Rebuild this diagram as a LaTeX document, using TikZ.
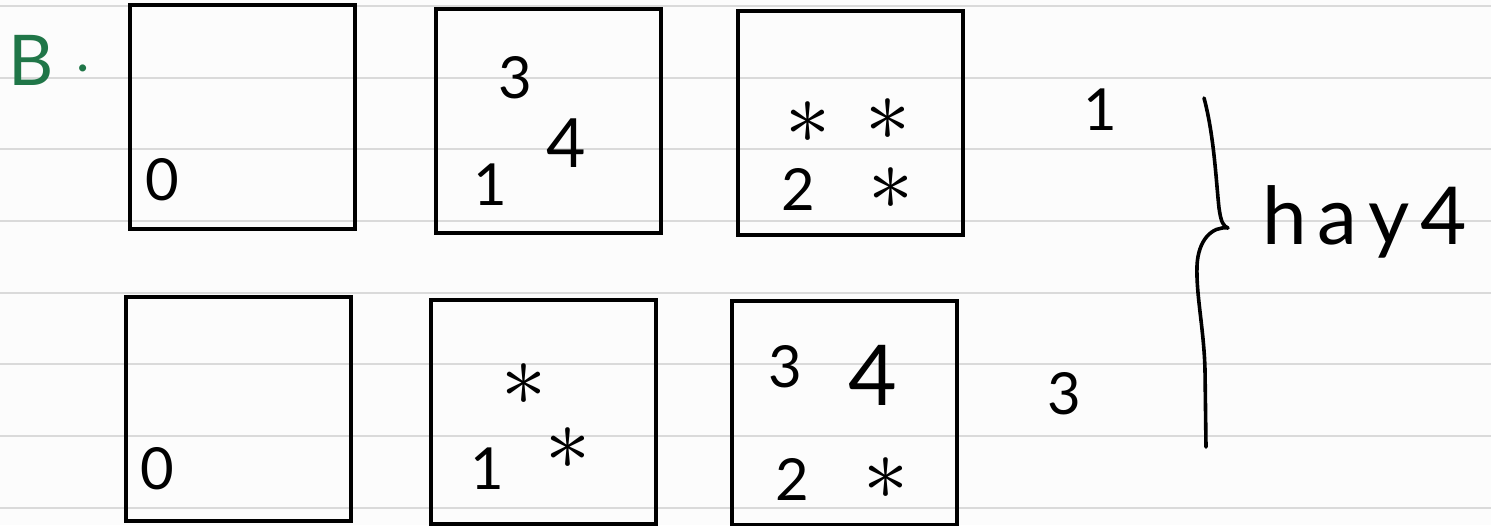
\documentclass[tikz,border=0pt]{standalone}
\usepackage{graphicx}
\usepackage{fontspec}
\setmainfont{Lato}
\newfontfamily\spaced[LetterSpace=14]{Lato}
\definecolor{inkgreen}{RGB}{32,118,72}
\definecolor{ruling}{RGB}{218,218,218}
\definecolor{paper}{RGB}{252,252,252}
\tikzset{
  cell/.style={draw=black, line width=4pt, minimum width=225pt, minimum height=224pt, inner sep=0pt},
  hand/.style={inner sep=0pt, font=\fontsize{58}{60}\selectfont},
  bighand/.style={inner sep=0pt, font=\fontsize{68}{70}\selectfont},
  hugehand/.style={inner sep=0pt, font=\fontsize{84}{86}\selectfont},
  star/.style={inner sep=0pt},
  rule/.style={draw=ruling, line width=2.5pt},
}
\newcommand{\hstar}{\scalebox{9}{$\ast$}}
\begin{document}
\begin{tikzpicture}[x=1pt,y=-1pt]
\fill[paper] (0,0) rectangle (1491,525);
\useasboundingbox (0,0) rectangle (1491,525);
% ruled lines
\foreach \yy in {6,78,149,221,293,364,436,508}{
  \draw[rule] (0,\yy) -- (1491,\yy);
}
% label B
\node[inner sep=0pt, text=inkgreen, font=\fontsize{70}{72}\selectfont] (blabel) at (31,60) {B};
\node[inner sep=0pt, anchor=base, text=inkgreen, font=\fontsize{56}{56}\selectfont] (bdot) at (83,71) {.};
% boxes row 1
\node[cell] (a1) at (242.5,117) {};
\node[cell] (a2) at (548,121) {};
\node[cell] (a3) at (850.5,122.5) {};
% boxes row 2
\node[cell] (b1) at (238,408.5) {};
\node[cell] (b2) at (543.5,411.5) {};
\node[cell] (b3) at (844.5,412.5) {};
% contents row 1
\node[hand] (a1zero) at (162,180) {0};
\node[hand] (a2three) at (515,78) {3};
\node[bighand] (a2four) at (566,143) {4};
\node[hand] (a2one) at (490,185) {1};
\node[star] (a3s1) at (808,123) {\hstar};
\node[star] (a3s2) at (888,120) {\hstar};
\node[hand] (a3two) at (798,189) {2};
\node[star] (a3s3) at (891,189) {\hstar};
% contents row 2
\node[hand] (b1zero) at (157,469) {0};
\node[star] (b2s1) at (524,385) {\hstar};
\node[hand] (b2one) at (487,469) {1};
\node[star] (b2s2) at (568,449) {\hstar};
\node[hand] (b3three) at (785,367) {3};
\node[hugehand] (b3four) at (873,375) {4};
\node[hand] (b3two) at (792,479) {2};
\node[star] (b3s) at (886,479) {\hstar};
% right side counts
\node[hand] (cnt1) at (1100,110) {1};
\node[hand] (cnt3) at (1064,394) {3};
% brace
\draw[line width=3.6pt, line cap=round, line join=round]
  (1204,98) .. controls (1214,135) and (1216,180) .. (1219,208)
  .. controls (1221,222) and (1223,226) .. (1228,228)
  .. controls (1212,226) and (1198,240) .. (1197,266)
  .. controls (1196,295) and (1204,330) .. (1205,370)
  -- (1206,447);
\node[inner sep=0pt, anchor=west, font=\spaced\fontsize{80}{82}\selectfont] (hay) at (1262,222) {hay4};
\end{tikzpicture}
\end{document}
